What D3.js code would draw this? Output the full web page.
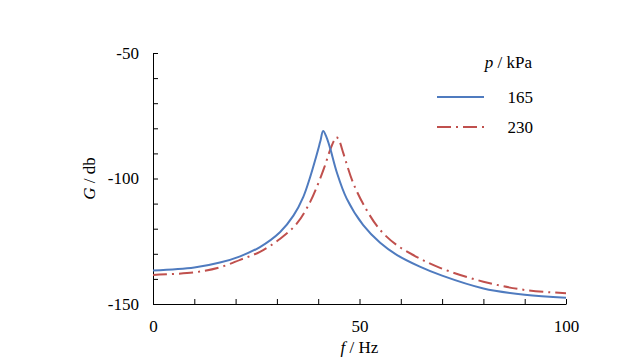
<!DOCTYPE html>
<html lang="en">
<head>
<meta charset="utf-8">
<title>G vs f</title>
<script src="https://cdn.jsdelivr.net/npm/d3@7"></script>
<style>
  body { margin: 0; background: #fff; }
  svg text { font-family: "Liberation Serif", "Times New Roman", serif; fill: #000; }
</style>
</head>
<body>
<script>
// values
var freq165 = [0, 10, 16.2, 21.1, 25.9, 30.8, 34, 36.4, 38, 39.5, 40.5, 41.2, 42, 42.9, 44.5, 46.9, 50.9, 55, 59, 64.6, 70, 80, 90, 100];
var gain165 = [-136.7, -135.5, -133.5, -131, -127.3, -121.3, -114.8, -107.3, -99.7, -91.3, -85.3, -81.1, -83.5, -88, -97.5, -108, -118.6, -125.6, -130.4, -135.1, -138.7, -143.8, -146.3, -147.5];

var freq230 = [0, 10, 16.2, 21.1, 25.9, 30.8, 34.8, 38, 40, 41.5, 42.8, 43.8, 44.4, 45.1, 46.1, 48.5, 51.7, 55, 59, 63.8, 69.5, 80, 90, 100];
var gain230 = [-138.4, -137.4, -135.4, -132.4, -129.2, -124, -118, -109.5, -102, -95.5, -89, -85, -83.5, -85, -90, -101.9, -112.5, -120.5, -126.5, -131.2, -135.6, -141.1, -144.4, -145.7];

var seriesNames = ["165", "230"];
var xTicks = d3.range(0, 101, 10);
var yTicks = d3.range(-150, -49, 10);

var w = 619, h = 362;
var mLeft = 153, mRight = 566, mTop = 53, mBottom = 304;

var x = d3.scaleLinear().domain([0, 100]).range([mLeft, mRight]);
var y = d3.scaleLinear().domain([-150, -50]).range([mBottom, mTop]);

var svg = d3.select("body").append("svg")
  .attr("width", w)
  .attr("height", h);

var xAxis = d3.axisBottom(x)
  .tickValues(xTicks)
  .tickSizeInner(-5)
  .tickSizeOuter(0)
  .tickPadding(16)
  .tickFormat(function(d) { return d % 50 === 0 ? String(d) : ""; });

var yAxis = d3.axisLeft(y)
  .tickValues(yTicks)
  .tickSizeInner(-5)
  .tickSizeOuter(0)
  .tickPadding(14)
  .tickFormat(function(d) { return d % 50 === 0 ? String(d) : ""; });

var gx = svg.append("g").attr("transform", "translate(0," + mBottom + ")").call(xAxis);
var gy = svg.append("g").attr("transform", "translate(" + mLeft + ",0)").call(yAxis);

[gx, gy].forEach(function(g) {
  g.selectAll("path, line").attr("stroke", "#000").attr("stroke-width", 1);
  g.selectAll("text").attr("font-size", "17px")
    .attr("font-family", "Liberation Serif, Times New Roman, serif");
});

// curves
var line = d3.line()
  .x(function(d) { return x(d[0]); })
  .y(function(d) { return y(d[1]); })
  .curve(d3.curveCatmullRom.alpha(0.5));

var data165 = freq165.map(function(f, i) { return [f, gain165[i]]; });
var data230 = freq230.map(function(f, i) { return [f, gain230[i]]; });

svg.append("path")
  .attr("d", line(data230))
  .attr("fill", "none")
  .attr("stroke", "#C0504D")
  .attr("stroke-width", 2)
  .attr("stroke-dasharray", "14,5,2,5");

svg.append("path")
  .attr("d", line(data165))
  .attr("fill", "none")
  .attr("stroke", "#4F7BBF")
  .attr("stroke-width", 2);

// axis titles
var xt = svg.append("text")
  .attr("x", x(50))
  .attr("y", 353)
  .attr("text-anchor", "middle")
  .attr("font-size", "17px");
xt.append("tspan").attr("font-style", "italic").text("f");
xt.append("tspan").text(" / Hz");

var yt = svg.append("text")
  .attr("transform", "translate(95," + y(-100) + ") rotate(-90)")
  .attr("text-anchor", "middle")
  .attr("font-size", "17px");
yt.append("tspan").attr("font-style", "italic").text("G");
yt.append("tspan").text(" / db");

// legend
var lt = svg.append("text")
  .attr("x", 532)
  .attr("y", 68)
  .attr("text-anchor", "end")
  .attr("font-size", "17px");
lt.append("tspan").attr("font-style", "italic").text("p");
lt.append("tspan").text(" / kPa");

var legendY = [97, 127];
var legendColor = ["#4F7BBF", "#C0504D"];
var legendDash = [null, "14,5,2,5"];

seriesNames.forEach(function(name, i) {
  svg.append("line")
    .attr("x1", 437).attr("x2", 484)
    .attr("y1", legendY[i]).attr("y2", legendY[i])
    .attr("stroke", legendColor[i])
    .attr("stroke-width", 2)
    .attr("stroke-dasharray", legendDash[i]);
  svg.append("text")
    .attr("x", 533)
    .attr("y", legendY[i] + 6)
    .attr("text-anchor", "end")
    .attr("font-size", "17px")
    .text(name);
});
</script>
</body>
</html>
